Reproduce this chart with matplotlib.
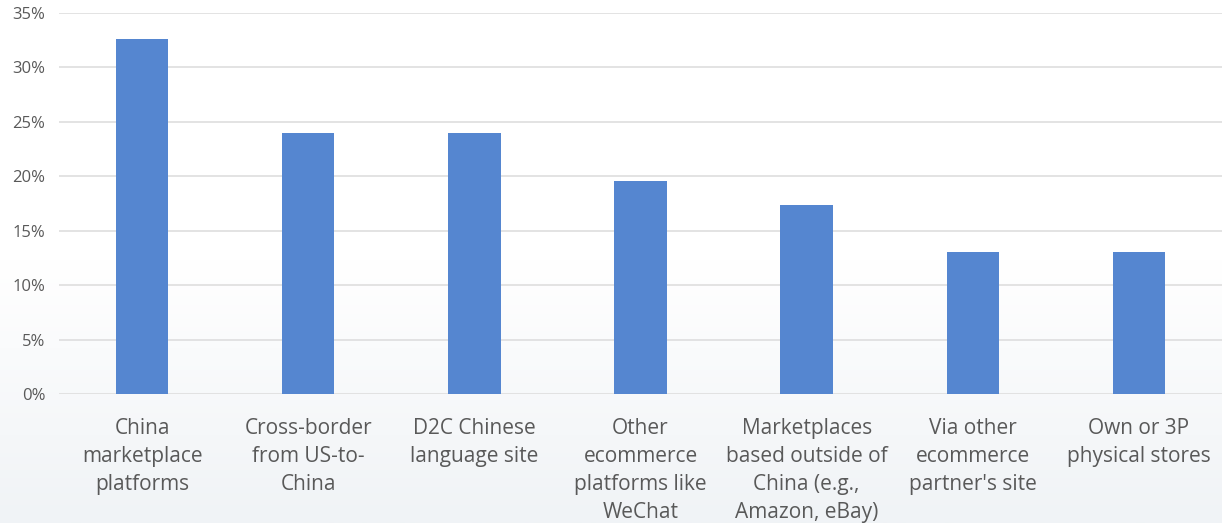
import matplotlib.pyplot as plt
import numpy as np
from matplotlib.ticker import PercentFormatter
from matplotlib.colors import LinearSegmentedColormap

categories = ["China\nmarketplace\nplatforms", "Cross-border\nfrom US-to-\nChina",
              "D2C Chinese\nlanguage site", "Other\necommerce\nplatforms like\nWeChat",
              "Marketplaces\nbased outside of\nChina (e.g.,\nAmazon, eBay)",
              "Via other\necommerce\npartner's site", "Own or 3P\nphysical stores"]
values = [32.6, 24.0, 24.0, 19.6, 17.4, 13.0, 13.0]
y_ticks = [0, 5, 10, 15, 20, 25, 30, 35]

plt.rcParams['font.family'] = ['Open Sans', 'DejaVu Sans']

fig = plt.figure(figsize=(12.22, 5.23), dpi=100)

# faint background gradient (white top -> light grey-blue bottom)
bg = fig.add_axes([0, 0, 1, 1], zorder=-10)
grad = np.linspace(0, 1, 256).reshape(-1, 1)
cmap = LinearSegmentedColormap.from_list('bg', ['#ffffff', '#ffffff', '#f0f3f6'])
bg.imshow(grad, aspect='auto', cmap=cmap, extent=[0, 1, 0, 1], origin='upper')
bg.axis('off')

ax = fig.add_axes([0.0483, 0.2467, 0.9517, 0.7283])
ax.patch.set_alpha(0)
x = np.arange(len(categories))
ax.bar(x, values, width=0.315, color='#5586d0', zorder=3)

ax.set_xlim(-0.5, len(categories) - 0.5)
ax.set_ylim(0, 35)
ax.set_yticks(y_ticks)
ax.yaxis.set_major_formatter(PercentFormatter(decimals=0))
ax.set_xticks(x)
ax.set_xticklabels(categories, fontsize=15, color='#595959', linespacing=1.45, va='top')
ax.tick_params(axis='y', labelsize=12, colors='#595959', length=0, pad=10)
ax.tick_params(axis='x', length=0, pad=17)
ax.grid(axis='y', color='#dedede', linewidth=1.2, zorder=0)
for s in ax.spines.values():
    s.set_visible(False)

fig.savefig('out.png', dpi=100)
